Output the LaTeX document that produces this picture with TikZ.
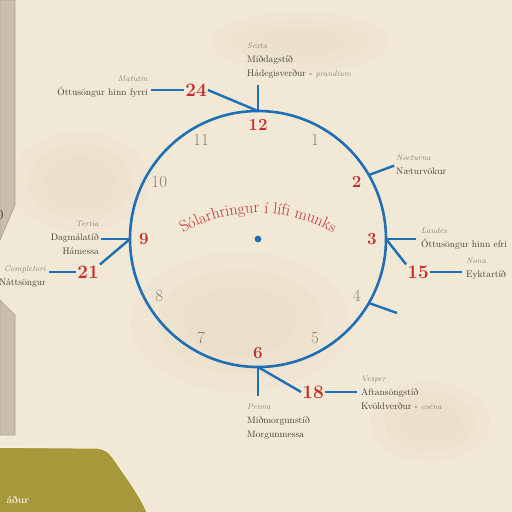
\documentclass[tikz,border=0pt]{standalone}
\usepackage{tikz}
\usetikzlibrary{positioning, calc, decorations.text}
\definecolor{parchment}{HTML}{F1E8D6}
\definecolor{stain}{HTML}{E2D3B6}
\definecolor{clockblue}{HTML}{1F6FB4}
\definecolor{horared}{HTML}{C2302E}
\definecolor{hourgray}{HTML}{8A847C}
\definecolor{labelink}{HTML}{463E36}
\definecolor{panelgray}{HTML}{CABFAC}
\definecolor{olive}{HTML}{A7993B}
\definecolor{oliveedge}{HTML}{F6EDD6}
\newcommand{\latname}[1]{{\color{hourgray}\fontsize{8}{14}\selectfont\itshape #1}}
\tikzset{
    horatext/.style={font=\fontsize{9.5}{14}\selectfont, text=labelink, inner sep=0pt},
    horanum/.style={font=\fontsize{19}{19}\selectfont\bfseries, text=horared, inner sep=1pt},
    hourlit/.style={font=\fontsize{17}{17}\selectfont\bfseries, text=horared},
    hourdim/.style={font=\fontsize{17}{17}\selectfont, text=hourgray},
    spoke/.style={draw=clockblue, line width=2.4pt},
    panel/.style={fill=panelgray, draw=panelgray!85!black, line width=0.6pt}
}

\begin{document}
\begin{tikzpicture}[x=1pt, y=1pt]
    \useasboundingbox (0,0) rectangle (512,512);
    \clip (0,0) rectangle (512,512);
    \fill[parchment] (0,0) rectangle (512,512);
    % faint stains in the paper
    \foreach \r in {1.0,0.75,0.5} {
        \fill[stain, opacity=0.12] (240,190) ellipse [x radius=110*\r, y radius=70*\r];
        \fill[stain, opacity=0.12] (80,330) ellipse [x radius=70*\r, y radius=50*\r];
        \fill[stain, opacity=0.12] (430,90) ellipse [x radius=60*\r, y radius=40*\r];
        \fill[stain, opacity=0.1] (300,470) ellipse [x radius=90*\r, y radius=30*\r];
    }

    % side panels and ground
    \filldraw[panel] (0,512) -- (15,512) -- (15,307) -- (0,272) -- cycle;
    \node[text=labelink, font=\fontsize{14}{14}\selectfont] (cutglyph) at (0,297) {0};
    \filldraw[panel] (0,212) -- (15,197) -- (15,77) -- (0,77) -- cycle;
    \filldraw[fill=olive, draw=oliveedge, line width=1.5pt] (-2,65) -- (98,64) .. controls (108,63) and (112,56) .. (117,49) .. controls (124,38) and (140,18) .. (148,-2) -- (-2,-2) -- cycle;
    \node[text=oliveedge, font=\fontsize{10}{10}\selectfont\bfseries, anchor=west] (groundword) at (3,12) {áður};

    % clock face
    \node[circle, draw=clockblue, line width=2.6pt, minimum size=256pt, outer sep=0pt] (clock) at (258,273) {};
    \fill[clockblue] (clock.center) circle (3.4);
    \foreach \h/\s in {1/hourdim, 2/hourlit, 3/hourlit, 4/hourdim, 5/hourdim, 6/hourlit,
                       7/hourdim, 8/hourdim, 9/hourlit, 10/hourdim, 11/hourdim, 12/hourlit}
        \node[\s] (n\h) at ($(clock.center)+({90-30*\h}:114)$) {\h};
    \path[decorate, decoration={text along path, text align=center,
        text={|\fontsize{16}{16}\selectfont\color{horared}|Sólarhringur í lífi munks}}]
        (169.8,270.4) arc[start angle=126, end angle=54, radius=150];

    % hours of the day
    \node[horatext, anchor=north west, align=left] (sexta) at (247,469) {\latname{Sexta}\\Miðdagstíð\\Hádegisverður - \latname{prandium}};
    \node[horatext, anchor=north east, align=right] (matutin) at (148,436) {\latname{Matutin}\\Óttusöngur hinn fyrri};
    \node[horatext, anchor=north west, align=left] (nocturna) at (396,357) {\latname{Nocturna}\\Næturvökur};
    \node[horatext, anchor=north west, align=left] (laudes) at (421,284) {\latname{Laudes}\\Óttusöngur hinn efri};
    \node[horatext, anchor=north west, align=left] (nona) at (466,254) {\latname{Nona}\\Eyktartíð};
    \node[horatext, anchor=north east, align=right] (tertia) at (99,291) {\latname{Tertia}\\Dagmálatíð\\Hámessa};
    \node[horatext, anchor=north east, align=right] (completori) at (46,246) {\latname{Completori}\\Náttsöngur};
    \node[horatext, anchor=north west, align=left] (prima) at (247,108) {\latname{Prima}\\Miðmorgunstíð\\Morgunmessa};
    \node[horatext, anchor=north west, align=left] (vesper) at (361,136) {\latname{Vesper}\\Aftansöngstíð\\Kvöldverður - \latname{coena}};

    \node[horanum] (h24) at (196,422) {24};
    \node[horanum] (h15) at (418,240) {15};
    \node[horanum] (h18) at (313,120) {18};
    \node[horanum] (h21) at (88,240) {21};
    \coordinate (tick4) at (397,199);

    % connectors
    \draw[spoke, shorten >=6pt] (clock.north) -- (clock.north |- sexta.south);
    \draw[spoke] (h24.east) -- (clock.north);
    \draw[spoke, shorten >=3pt] (h24.west) -- (h24.west -| matutin.east);
    \draw[spoke, shorten >=2pt] (clock.30) -- (nocturna.west);
    \draw[spoke, shorten >=5pt] (clock.east) -- (clock.east -| laudes.west);
    \draw[spoke] (clock.east) -- (h15.north west);
    \draw[spoke, shorten >=4pt] (h15.east) -- (h15.east -| nona.west);
    \draw[spoke] (clock.-30) -- (tick4);
    \draw[spoke, shorten >=8pt] (clock.south) -- (clock.south |- prima.north);
    \draw[spoke] (clock.south) -- (h18.west);
    \draw[spoke, shorten >=4pt] (h18.east) -- (h18.east -| vesper.west);
    \draw[spoke, shorten >=2pt] (clock.west) -- (clock.west -| tertia.east);
    \draw[spoke] (clock.west) -- (h21.north east);
    \draw[spoke, shorten >=3pt] (h21.west) -- (h21.west -| completori.east);
\end{tikzpicture}
\end{document}
